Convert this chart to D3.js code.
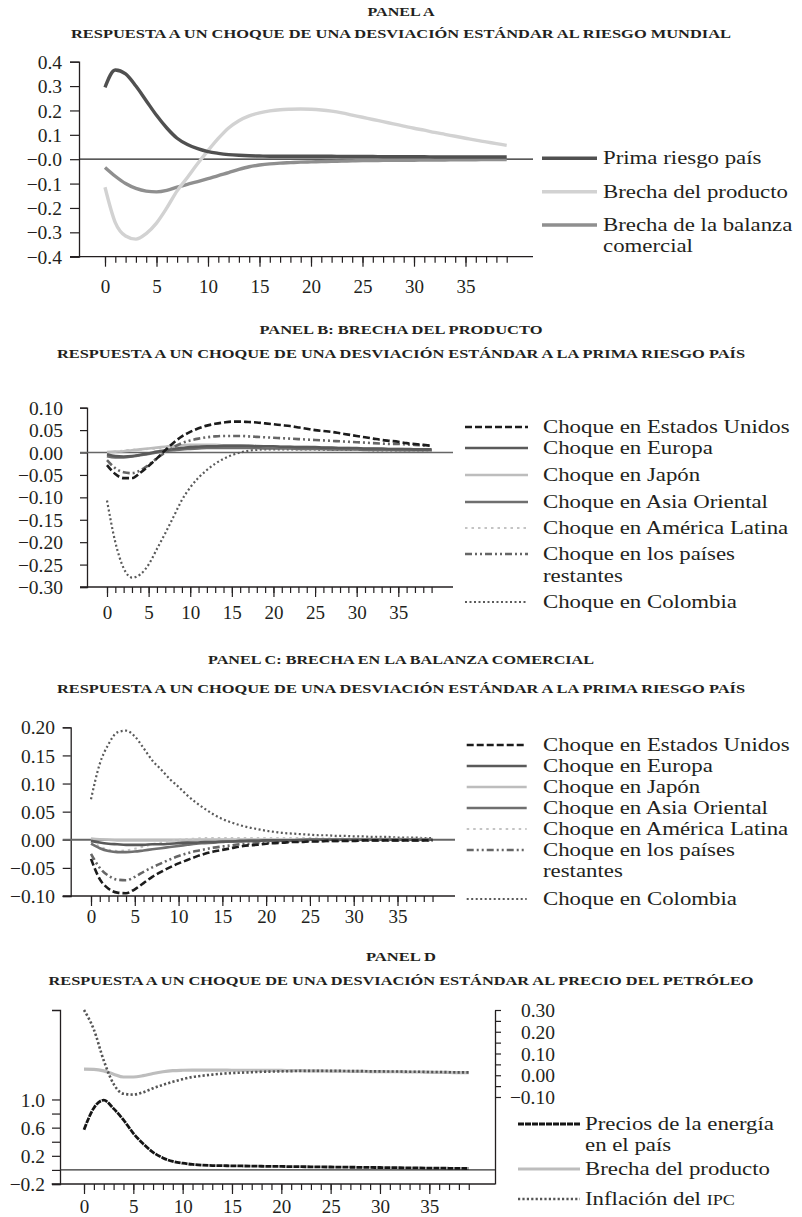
<!DOCTYPE html>
<html><head><meta charset="utf-8">
<script src="https://cdn.jsdelivr.net/npm/d3@7"></script>
<style>
body{margin:0;background:#fff;}
svg{display:block;}
text{font-family:"Liberation Serif","Times New Roman",serif;fill:#231f20;}
</style></head><body>
<svg id="chart" width="802" height="1217"></svg>
<script>
// ---------------- DATA ----------------
const periods = d3.range(40);
const xTickValues = [0,5,10,15,20,25,30,35];
const xTickLabels = ["0","5","10","15","20","25","30","35"];

// Panel A
const titleA = "PANEL A";
const subtitleA = "RESPUESTA A UN CHOQUE DE UNA DESVIACIÓN ESTÁNDAR AL RIESGO MUNDIAL";
const yTicksA = [0.4,0.3,0.2,0.1,0,-0.1,-0.2,-0.3,-0.4];
const yLabelsA = ["0.4","0.3","0.2","0.1","\u22120.0","\u22120.1","\u22120.2","\u22120.3","\u22120.4"];
const legendA = [["Prima riesgo país"],["Brecha del producto"],["Brecha de la balanza","comercial"]];
const primaA = [0.295,0.366,0.350,0.300,0.240,0.180,0.128,0.086,0.060,0.043,0.031,0.024,0.019,0.016,0.014,0.013,0.012,0.012,0.012,0.012,0.012,0.012,0.012,0.011,0.011,0.011,0.011,0.010,0.010,0.010,0.010,0.010,0.009,0.009,0.009,0.009,0.009,0.009,0.009,0.009];
const brechaProdA = [-0.115,-0.260,-0.315,-0.328,-0.305,-0.262,-0.200,-0.130,-0.075,-0.018,0.035,0.085,0.128,0.158,0.178,0.190,0.198,0.203,0.205,0.206,0.205,0.202,0.197,0.190,0.181,0.172,0.163,0.154,0.145,0.136,0.127,0.119,0.110,0.102,0.094,0.086,0.078,0.071,0.064,0.057];
const brechaBalA = [-0.034,-0.070,-0.100,-0.120,-0.131,-0.134,-0.128,-0.115,-0.103,-0.092,-0.080,-0.067,-0.055,-0.042,-0.031,-0.024,-0.019,-0.016,-0.014,-0.012,-0.011,-0.010,-0.009,-0.008,-0.007,-0.006,-0.006,-0.005,-0.005,-0.004,-0.004,-0.003,-0.003,-0.003,-0.002,-0.002,-0.002,-0.001,-0.001,-0.001];

// Panel B
const titleB = "PANEL B: BRECHA DEL PRODUCTO";
const subtitleB = "RESPUESTA A UN CHOQUE DE UNA DESVIACIÓN ESTÁNDAR A LA PRIMA RIESGO PAÍS";
const yTicksB = [0.10,0.05,0,-0.05,-0.10,-0.15,-0.20,-0.25,-0.30];
const yLabelsB = ["0.10","0.05","0.00","\u22120.05","\u22120.10","\u22120.15","\u22120.20","\u22120.25","\u22120.30"];
const legendBC = [["Choque en Estados Unidos"],["Choque en Europa"],["Choque en Japón"],["Choque en Asia Oriental"],["Choque en América Latina"],["Choque en los países","restantes"],["Choque en Colombia"]];
const euB = [-0.028,-0.048,-0.057,-0.057,-0.045,-0.030,-0.013,0.005,0.022,0.036,0.046,0.054,0.060,0.064,0.067,0.069,0.069,0.068,0.067,0.065,0.063,0.061,0.059,0.056,0.053,0.050,0.048,0.046,0.043,0.040,0.037,0.034,0.031,0.028,0.026,0.024,0.021,0.019,0.017,0.015];
const europaB = [-0.004,-0.008,-0.009,-0.008,-0.005,-0.002,0.002,0.005,0.008,0.010,0.012,0.013,0.014,0.014,0.015,0.015,0.015,0.015,0.014,0.014,0.014,0.013,0.013,0.012,0.012,0.012,0.011,0.011,0.010,0.010,0.010,0.009,0.009,0.009,0.008,0.008,0.008,0.007,0.007,0.007];
const japonB = [0.001,0.002,0.003,0.005,0.007,0.009,0.011,0.013,0.015,0.016,0.017,0.017,0.017,0.017,0.016,0.016,0.016,0.015,0.015,0.014,0.014,0.013,0.013,0.012,0.012,0.011,0.011,0.010,0.010,0.010,0.009,0.009,0.009,0.008,0.008,0.008,0.007,0.007,0.007,0.006];
const asiaB = [-0.008,-0.011,-0.011,-0.009,-0.006,-0.003,0.000,0.003,0.005,0.007,0.008,0.009,0.010,0.010,0.010,0.010,0.010,0.010,0.010,0.009,0.009,0.009,0.009,0.008,0.008,0.008,0.008,0.007,0.007,0.007,0.007,0.006,0.006,0.006,0.006,0.005,0.005,0.005,0.005,0.005];
const amLatB = [0.000,0.002,0.004,0.006,0.007,0.008,0.009,0.010,0.011,0.011,0.012,0.012,0.012,0.012,0.011,0.011,0.011,0.010,0.010,0.010,0.009,0.009,0.009,0.008,0.008,0.008,0.007,0.007,0.007,0.006,0.006,0.006,0.006,0.005,0.005,0.005,0.005,0.004,0.004,0.004];
const paisesB = [-0.017,-0.035,-0.044,-0.046,-0.040,-0.028,-0.013,0.000,0.012,0.021,0.027,0.031,0.034,0.036,0.037,0.037,0.037,0.036,0.035,0.034,0.033,0.032,0.031,0.030,0.029,0.028,0.027,0.026,0.025,0.024,0.023,0.022,0.021,0.020,0.019,0.019,0.018,0.017,0.016,0.015];
const colombiaB = [-0.107,-0.200,-0.258,-0.279,-0.272,-0.250,-0.215,-0.180,-0.143,-0.106,-0.078,-0.056,-0.039,-0.025,-0.014,-0.006,0.000,0.004,0.006,0.007,0.007,0.007,0.007,0.007,0.007,0.007,0.006,0.006,0.006,0.006,0.006,0.006,0.005,0.005,0.005,0.005,0.005,0.005,0.005,0.005];

// Panel C
const titleC = "PANEL C: BRECHA EN LA BALANZA COMERCIAL";
const subtitleC = "RESPUESTA A UN CHOQUE DE UNA DESVIACIÓN ESTÁNDAR A LA PRIMA RIESGO PAÍS";
const yTicksC = [0.20,0.15,0.10,0.05,0,-0.05,-0.10];
const yLabelsC = ["0.20","0.15","0.10","0.05","0.00","\u22120.05","\u22120.10"];
const euC = [-0.034,-0.070,-0.087,-0.094,-0.095,-0.088,-0.077,-0.066,-0.057,-0.049,-0.042,-0.036,-0.030,-0.025,-0.021,-0.018,-0.015,-0.012,-0.010,-0.009,-0.007,-0.006,-0.005,-0.004,-0.004,-0.003,-0.003,-0.002,-0.002,-0.002,-0.002,-0.001,-0.001,-0.001,-0.001,-0.001,-0.001,-0.001,-0.001,-0.001];
const europaC = [-0.002,-0.005,-0.007,-0.008,-0.009,-0.009,-0.009,-0.008,-0.008,-0.007,-0.006,-0.005,-0.005,-0.004,-0.004,-0.003,-0.003,-0.002,-0.002,-0.002,-0.001,-0.001,-0.001,-0.001,-0.001,0,0,0,0,0,0,0,0,0,0,0,0,0,0,0];
const japonC = [0.002,0.001,0.000,-0.001,-0.001,-0.001,-0.001,-0.001,-0.001,-0.001,-0.001,-0.001,0,0,0,0,0,0,0,0,0,0,0,0,0,0,0,0,0,0,0,0,0,0,0,0,0,0,0,0];
const asiaC = [-0.007,-0.015,-0.020,-0.022,-0.022,-0.021,-0.019,-0.017,-0.015,-0.013,-0.011,-0.009,-0.007,-0.006,-0.005,-0.004,-0.003,-0.003,-0.002,-0.002,-0.001,-0.001,-0.001,-0.001,0,0,0,0,0,0,0,0,0,0,0,0,0,0,0,0];
const amLatC = [-0.003,-0.012,-0.018,-0.020,-0.019,-0.016,-0.012,-0.008,-0.005,-0.002,0.000,0.001,0.002,0.003,0.003,0.003,0.003,0.003,0.003,0.003,0.003,0.003,0.003,0.003,0.003,0.003,0.002,0.002,0.002,0.002,0.002,0.002,0.002,0.002,0.002,0.002,0.002,0.002,0.002,0.002];
const paisesC = [-0.025,-0.050,-0.064,-0.071,-0.072,-0.066,-0.057,-0.049,-0.042,-0.035,-0.029,-0.024,-0.020,-0.017,-0.014,-0.012,-0.010,-0.008,-0.007,-0.006,-0.005,-0.004,-0.004,-0.003,-0.003,-0.002,-0.002,-0.002,-0.002,-0.001,-0.001,-0.001,-0.001,-0.001,-0.001,-0.001,-0.001,-0.001,-0.001,-0.001];
const colombiaC = [0.072,0.135,0.170,0.191,0.194,0.184,0.163,0.141,0.125,0.108,0.094,0.079,0.066,0.055,0.045,0.037,0.031,0.026,0.022,0.019,0.016,0.014,0.012,0.011,0.010,0.009,0.008,0.008,0.007,0.007,0.006,0.006,0.005,0.005,0.005,0.004,0.004,0.004,0.003,0.003];

// Panel D
const titleD = "PANEL D";
const subtitleD = "RESPUESTA A UN CHOQUE DE UNA DESVIACIÓN ESTÁNDAR AL PRECIO DEL PETRÓLEO";
const yTicksDLeft = [-0.2,0,0.2,0.4,0.6,0.8,1.0];
const yLabelsDLeft = ["\u22120.2","","0.2","","0.6","","1.0"];
const yTicksDRight = [-0.10,-0.05,0,0.05,0.10,0.15,0.20,0.25,0.30];
const yLabelsDRight = ["\u22120.10","","0.00","","0.10","","0.20","","0.30"];
const legendD = [["Precios de la energía","en el país"],["Brecha del producto"],["Inflación del ","IPC"]];
const preciosD = [0.57,0.88,0.99,0.87,0.71,0.52,0.37,0.25,0.17,0.12,0.095,0.078,0.068,0.062,0.060,0.058,0.056,0.054,0.052,0.050,0.049,0.047,0.046,0.044,0.043,0.041,0.040,0.038,0.037,0.035,0.034,0.032,0.031,0.029,0.028,0.026,0.025,0.023,0.022,0.020];
const brechaD = [0.028,0.027,0.020,0.005,-0.008,-0.008,-0.002,0.008,0.016,0.021,0.023,0.024,0.024,0.024,0.024,0.023,0.023,0.023,0.022,0.022,0.022,0.021,0.021,0.020,0.020,0.019,0.019,0.018,0.018,0.017,0.017,0.016,0.016,0.015,0.015,0.014,0.013,0.013,0.012,0.012];
const inflacionD = [0.300,0.210,0.068,-0.040,-0.085,-0.089,-0.078,-0.060,-0.044,-0.030,-0.018,-0.008,-0.002,0.003,0.007,0.010,0.012,0.014,0.016,0.017,0.018,0.019,0.020,0.020,0.020,0.020,0.020,0.019,0.019,0.018,0.018,0.017,0.017,0.016,0.016,0.015,0.015,0.014,0.013,0.013];

// ---------------- DRAWING ----------------
const svg = d3.select("#chart");
const INK = "#231f20";
const LEG_FS = 19.5;
const LEG_STRETCH = 1.17;

function title(text, cy, len, size) {
  svg.append("text").attr("x", 401).attr("y", cy + 0.34*size)
    .attr("text-anchor","middle").attr("font-size", size).attr("font-weight","bold")
    .attr("textLength", len).attr("lengthAdjust","spacingAndGlyphs").text(text);
}

function stretch(t) {
  const w = t.node().getComputedTextLength();
  t.attr("textLength", w*LEG_STRETCH).attr("lengthAdjust","spacingAndGlyphs");
  return t;
}

function legendText(x, cy, str) {
  const t = svg.append("text").attr("x", x).attr("y", cy + 0.3*LEG_FS)
    .attr("font-size", LEG_FS).text(str);
  return stretch(t);
}

function xAxis(x, yPos, from, to, labelY) {
  svg.append("line").attr("x1",from).attr("x2",to).attr("y1",yPos).attr("y2",yPos)
    .attr("stroke",INK).attr("stroke-width",1.3);
  const gMinor = svg.append("g").attr("transform",`translate(0,${yPos})`)
    .call(d3.axisBottom(x).tickValues(periods).tickSize(6).tickFormat(""));
  gMinor.select(".domain").remove();
  const gMajor = svg.append("g").attr("transform",`translate(0,${yPos})`)
    .call(d3.axisBottom(x).tickValues(xTickValues).tickSize(10).tickFormat((d,i)=>xTickLabels[i]));
  gMajor.select(".domain").remove();
  [gMinor,gMajor].forEach(g=>g.selectAll(".tick line").attr("stroke",INK).attr("stroke-width",1.2));
  gMajor.selectAll(".tick text").attr("y", labelY - yPos).attr("dy","0.34em")
    .attr("font-size",19).attr("fill",INK);
}

function yAxisLeft(y, axisX, tickVals, labels, tickSize, labelEnd) {
  const g = svg.append("g").attr("transform",`translate(${axisX},0)`)
    .call(d3.axisLeft(y).tickValues(tickVals).tickSize(tickSize).tickSizeOuter(tickSize)
      .tickFormat((d,i)=>labels[i]));
  g.select(".domain").attr("stroke",INK).attr("stroke-width",1.3);
  g.selectAll(".tick line").attr("stroke",INK).attr("stroke-width",1.2);
  g.selectAll(".tick text").attr("x", labelEnd - axisX).attr("dy","0.34em")
    .attr("font-size",19.5).attr("fill",INK);
  return g;
}

function zeroLine(y0, from, to, color, w) {
  svg.append("line").attr("x1",from).attr("x2",to).attr("y1",y0).attr("y2",y0)
    .attr("stroke",color).attr("stroke-width",w);
}

function drawSeries(x, y, s) {
  const line = d3.line().x((d,i)=>x(periods[i])).y(d=>y(d)).curve(d3.curveMonotoneX);
  svg.append("path").attr("d", line(s.values)).attr("fill","none")
    .attr("stroke", s.color).attr("stroke-width", s.width)
    .attr("stroke-dasharray", s.dash || null).attr("stroke-linejoin","round");
}

function legend(series, labels, lx0, lx1, tx, rows, lineGap) {
  series.forEach((s,i)=>{
    const cy = rows[i];
    svg.append("line").attr("x1",lx0).attr("x2",lx1).attr("y1",cy).attr("y2",cy)
      .attr("stroke",s.color).attr("stroke-width",s.width).attr("stroke-dasharray",s.dash||null);
    labels[i].forEach((ln,j)=> legendText(tx, cy + j*lineGap, ln));
  });
}

// ===== Panel A =====
title(titleA, 11.7, 67, 13.5);
title(subtitleA, 33.5, 660, 13.5);
{
  const x = d3.scaleLinear().domain([0,35]).range([105,465.5]);
  const y = d3.scaleLinear().domain([-0.4,0.4]).range([256.7,61.7]);
  yAxisLeft(y, 79, yTicksA, yLabelsA, 9, 62);
  zeroLine(y(0), 79, 533, "#222", 1.2);
  const seriesA = [
    {values: brechaBalA, color:"#8f8f8f", width:3.4},
    {values: brechaProdA, color:"#d2d2d2", width:3.4},
    {values: primaA, color:"#505050", width:3.4}
  ];
  seriesA.forEach(s=>drawSeries(x,y,s));
  xAxis(x, 256.7, 70, 533, 287);
  legend([seriesA[2],seriesA[1],seriesA[0]], legendA, 542, 597, 603, [158.3,191.7,225], 21);
}

// ===== Panel B =====
title(titleB, 329, 283, 13.5);
title(subtitleB, 353, 688, 13.5);
const styleBC = {
  eu: {color:"#1c1c1c", width:2.6, dash:"7,3"},
  europa: {color:"#5a5a5a", width:2.6},
  japon: {color:"#bdbdbd", width:2.6},
  asia: {color:"#6f6f6f", width:2.6},
  amlat: {color:"#c4c4c4", width:2.2, dash:"2.5,4"},
  paises: {color:"#666", width:2.6, dash:"7,3,2,3,2,3"},
  colombia: {color:"#5a5a5a", width:2.2, dash:"2,2.5"}
};
{
  const x = d3.scaleLinear().domain([0,35]).range([107,398.3]);
  const y = d3.scaleLinear().domain([-0.30,0.10]).range([587,407.7]);
  yAxisLeft(y, 87, yTicksB, yLabelsB, 7, 63);
  zeroLine(y(0), 80, 453, "#666", 1.6);
  const s = {
    eu: Object.assign({values: euB}, styleBC.eu),
    europa: Object.assign({values: europaB}, styleBC.europa),
    japon: Object.assign({values: japonB}, styleBC.japon),
    asia: Object.assign({values: asiaB}, styleBC.asia),
    amlat: Object.assign({values: amLatB}, styleBC.amlat),
    paises: Object.assign({values: paisesB}, styleBC.paises),
    colombia: Object.assign({values: colombiaB}, styleBC.colombia)
  };
  [s.colombia, s.amlat, s.japon, s.asia, s.europa, s.paises, s.eu].forEach(d=>drawSeries(x,y,d));
  xAxis(x, 587, 80, 453, 613);
  legend([s.eu,s.europa,s.japon,s.asia,s.amlat,s.paises,s.colombia], legendBC,
    465, 528, 543, [427,448,475,502,528,554,602], 22);
}

// ===== Panel C =====
title(titleC, 659.3, 386, 13.5);
title(subtitleC, 688.3, 688, 13.5);
{
  const x = d3.scaleLinear().domain([0,35]).range([91,397.5]);
  const y = d3.scaleLinear().domain([-0.10,0.20]).range([896,727.3]);
  yAxisLeft(y, 70.7, yTicksC, yLabelsC, 8, 55);
  zeroLine(y(0), 62.7, 455, "#666", 1.8);
  const s = {
    eu: Object.assign({values: euC}, styleBC.eu),
    europa: Object.assign({values: europaC}, styleBC.europa),
    japon: Object.assign({values: japonC}, styleBC.japon),
    asia: Object.assign({values: asiaC}, styleBC.asia),
    amlat: Object.assign({values: amLatC}, styleBC.amlat),
    paises: Object.assign({values: paisesC}, styleBC.paises),
    colombia: Object.assign({values: colombiaC}, styleBC.colombia)
  };
  [s.colombia, s.japon, s.amlat, s.asia, s.europa, s.paises, s.eu].forEach(d=>drawSeries(x,y,d));
  xAxis(x, 896, 62.7, 455, 916.7);
  legend([s.eu,s.europa,s.japon,s.asia,s.amlat,s.paises,s.colombia], legendBC,
    466.7, 526.7, 543, [745,766,787,808,829,850,899], 21.5);
}

// ===== Panel D =====
title(titleD, 956.7, 70, 13.5);
title(subtitleD, 980, 705, 13.5);
{
  const x = d3.scaleLinear().domain([0,35]).range([84,429.3]);
  const yL = d3.scaleLinear().domain([-0.2,2.27]).range([1184,1010]);
  const yR = d3.scaleLinear().domain([-0.5,0.30]).range([1184,1010]);
  yAxisLeft(yL, 60, yTicksDLeft, yLabelsDLeft, 8, 45);
  const gR = svg.append("g").attr("transform","translate(495,0)")
    .call(d3.axisRight(yR).tickValues(yTicksDRight).tickSize(6).tickSizeOuter(0)
      .tickFormat((d,i)=>yLabelsDRight[i]));
  gR.select(".domain").attr("stroke",INK).attr("stroke-width",1.3);
  gR.selectAll(".tick line").attr("stroke",INK).attr("stroke-width",1.2);
  gR.selectAll(".tick text").attr("x", 555-495).attr("dy","0.34em").attr("text-anchor","end")
    .attr("font-size",19.5).attr("fill",INK);
  zeroLine(yL(0), 60, 495, "#333", 1.2);
  const sPrecios = {values: preciosD, color:"#151515", width:2.8, dash:"6,1"};
  const sBrecha = {values: brechaD, color:"#bdbdbd", width:3.2};
  const sInfl = {values: inflacionD, color:"#555", width:2.6, dash:"2.2,2.2"};
  drawSeries(x, yR, sBrecha);
  drawSeries(x, yR, sInfl);
  drawSeries(x, yL, sPrecios);
  xAxis(x, 1184, 51.7, 495, 1206.7);
  const items = [sPrecios, sBrecha, sInfl];
  const rows = [1124, 1169, 1199];
  items.forEach((s,i)=>{
    svg.append("line").attr("x1",518).attr("x2",580).attr("y1",rows[i]).attr("y2",rows[i])
      .attr("stroke",s.color).attr("stroke-width",s.width).attr("stroke-dasharray",s.dash||null);
  });
  legendText(585, 1124, legendD[0][0]);
  legendText(585, 1145, legendD[0][1]);
  legendText(585, 1169, legendD[1][0]);
  const t = svg.append("text").attr("x",585).attr("y",1199 + 0.3*LEG_FS).attr("font-size",LEG_FS);
  t.append("tspan").text(legendD[2][0]);
  t.append("tspan").attr("font-size",15.5).text(legendD[2][1]);
  stretch(t);
}
</script>
</body></html>
